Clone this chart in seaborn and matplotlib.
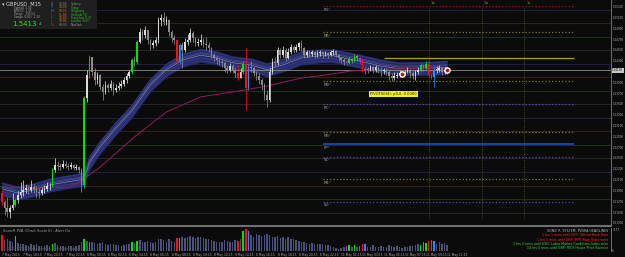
import numpy as np
import pandas as pd
import matplotlib
matplotlib.use('Agg')
import matplotlib.pyplot as plt
import seaborn as sns

# ---- GBPUSD M15 bars ----
first_open = 1.5186
close = [1.5170, 1.5158, 1.5151, 1.5158, 1.5164, 1.5173, 1.5182, 1.5188, 1.5192, 1.5195,
         1.5192, 1.5197, 1.5194, 1.5188, 1.5186, 1.5192, 1.5194, 1.5199, 1.5199, 1.5229,
         1.5238, 1.5237, 1.5234, 1.5240, 1.5237, 1.5234, 1.5238, 1.5232, 1.5234, 1.5229,
         1.5201, 1.5362, 1.5404, 1.5438, 1.5410, 1.5395, 1.5404, 1.5382, 1.5373, 1.5386,
         1.5380, 1.5388, 1.5377, 1.5380, 1.5384, 1.5388, 1.5395, 1.5403, 1.5410, 1.5432,
         1.5429, 1.5466, 1.5484, 1.5478, 1.5488, 1.5469, 1.5460, 1.5464, 1.5469, 1.5506,
         1.5510, 1.5503, 1.5506, 1.5484, 1.5473, 1.5469, 1.5429, 1.5460, 1.5451, 1.5466,
         1.5469, 1.5482, 1.5473, 1.5464, 1.5466, 1.5469, 1.5462, 1.5460, 1.5454, 1.5441,
         1.5436, 1.5432, 1.5429, 1.5427, 1.5417, 1.5414, 1.5421, 1.5414, 1.5408, 1.5399,
         1.5410, 1.5425, 1.5380, 1.5419, 1.5417, 1.5408, 1.5403, 1.5395, 1.5386, 1.5367,
         1.5358, 1.5410, 1.5429, 1.5427, 1.5451, 1.5441, 1.5451, 1.5436, 1.5447, 1.5456,
         1.5451, 1.5456, 1.5464, 1.5454, 1.5441, 1.5447, 1.5443, 1.5447, 1.5441, 1.5445,
         1.5447, 1.5443, 1.5445, 1.5441, 1.5447, 1.5449, 1.5441, 1.5436, 1.5432, 1.5429,
         1.5427, 1.5434, 1.5430, 1.5440, 1.5436, 1.5429, 1.5414, 1.5416, 1.5414, 1.5419,
         1.5414, 1.5419, 1.5414, 1.5412, 1.5412, 1.5410, 1.5403, 1.5399, 1.5403, 1.5404,
         1.5408, 1.5406, 1.5410, 1.5414, 1.5408, 1.5403, 1.5410, 1.5414, 1.5423, 1.5417,
         1.5425, 1.5404, 1.5401, 1.5414, 1.5414, 1.5417, 1.5410, 1.5414, 1.5413]
high = [1.5192, 1.5173, 1.5179, 1.5164, 1.5186, 1.5177, 1.5190, 1.5207, 1.5210, 1.5203,
        1.5201, 1.5210, 1.5203, 1.5199, 1.5195, 1.5197, 1.5201, 1.5207, 1.5205, 1.5232,
        1.5251, 1.5245, 1.5242, 1.5247, 1.5245, 1.5242, 1.5243, 1.5240, 1.5240, 1.5236,
        1.5232, 1.5366, 1.5414, 1.5441, 1.5438, 1.5417, 1.5410, 1.5406, 1.5388, 1.5393,
        1.5390, 1.5395, 1.5392, 1.5388, 1.5392, 1.5395, 1.5401, 1.5408, 1.5414, 1.5436,
        1.5440, 1.5469, 1.5491, 1.5489, 1.5495, 1.5488, 1.5471, 1.5469, 1.5475, 1.5512,
        1.5517, 1.5521, 1.5514, 1.5508, 1.5488, 1.5478, 1.5471, 1.5464, 1.5466, 1.5473,
        1.5480, 1.5491, 1.5486, 1.5475, 1.5473, 1.5480, 1.5473, 1.5475, 1.5466, 1.5456,
        1.5445, 1.5440, 1.5436, 1.5434, 1.5430, 1.5423, 1.5427, 1.5425, 1.5419, 1.5423,
        1.5417, 1.5430, 1.5454, 1.5425, 1.5430, 1.5421, 1.5412, 1.5408, 1.5399, 1.5390,
        1.5377, 1.5417, 1.5436, 1.5438, 1.5456, 1.5454, 1.5458, 1.5454, 1.5454, 1.5462,
        1.5460, 1.5462, 1.5466, 1.5469, 1.5456, 1.5451, 1.5451, 1.5451, 1.5449, 1.5451,
        1.5451, 1.5449, 1.5449, 1.5447, 1.5451, 1.5453, 1.5451, 1.5443, 1.5438, 1.5436,
        1.5432, 1.5438, 1.5436, 1.5443, 1.5441, 1.5438, 1.5434, 1.5421, 1.5419, 1.5423,
        1.5421, 1.5423, 1.5421, 1.5419, 1.5417, 1.5417, 1.5414, 1.5408, 1.5410, 1.5410,
        1.5414, 1.5412, 1.5414, 1.5419, 1.5416, 1.5412, 1.5414, 1.5419, 1.5427, 1.5425,
        1.5430, 1.5432, 1.5406, 1.5419, 1.5421, 1.5423, 1.5419, 1.5419, 1.5417]
low = [1.5164, 1.5145, 1.5142, 1.5140, 1.5155, 1.5160, 1.5168, 1.5177, 1.5180, 1.5186,
       1.5184, 1.5188, 1.5186, 1.5177, 1.5177, 1.5182, 1.5186, 1.5190, 1.5192, 1.5197,
       1.5225, 1.5229, 1.5229, 1.5232, 1.5232, 1.5229, 1.5231, 1.5229, 1.5229, 1.5223,
       1.5188, 1.5195, 1.5355, 1.5399, 1.5403, 1.5386, 1.5388, 1.5377, 1.5358, 1.5369,
       1.5373, 1.5377, 1.5367, 1.5373, 1.5377, 1.5380, 1.5384, 1.5390, 1.5399, 1.5406,
       1.5421, 1.5425, 1.5464, 1.5469, 1.5473, 1.5462, 1.5451, 1.5454, 1.5458, 1.5464,
       1.5495, 1.5497, 1.5497, 1.5477, 1.5466, 1.5462, 1.5425, 1.5425, 1.5417, 1.5447,
       1.5460, 1.5466, 1.5466, 1.5458, 1.5458, 1.5460, 1.5456, 1.5451, 1.5447, 1.5436,
       1.5430, 1.5425, 1.5423, 1.5419, 1.5410, 1.5408, 1.5410, 1.5408, 1.5401, 1.5395,
       1.5399, 1.5406, 1.5340, 1.5377, 1.5410, 1.5403, 1.5395, 1.5388, 1.5377, 1.5358,
       1.5345, 1.5355, 1.5406, 1.5421, 1.5423, 1.5436, 1.5438, 1.5430, 1.5434, 1.5443,
       1.5445, 1.5447, 1.5451, 1.5449, 1.5436, 1.5438, 1.5438, 1.5440, 1.5436, 1.5438,
       1.5440, 1.5436, 1.5440, 1.5436, 1.5440, 1.5441, 1.5438, 1.5430, 1.5427, 1.5423,
       1.5423, 1.5425, 1.5427, 1.5429, 1.5430, 1.5425, 1.5410, 1.5406, 1.5408, 1.5412,
       1.5408, 1.5410, 1.5408, 1.5403, 1.5406, 1.5404, 1.5395, 1.5393, 1.5395, 1.5399,
       1.5401, 1.5401, 1.5404, 1.5408, 1.5399, 1.5397, 1.5395, 1.5406, 1.5410, 1.5412,
       1.5414, 1.5401, 1.5397, 1.5382, 1.5408, 1.5410, 1.5404, 1.5406, 1.5406]
volume = [2200, 1500, 1700, 1400, 1300, 2100, 1100, 900, 1000, 800,
          700, 900, 800, 900, 750, 700, 650, 800, 700, 1000,
          1100, 800, 700, 750, 600, 650, 700, 600, 650, 800,
          1200, 1600, 1400, 1300, 1200, 1100, 1000, 1100, 1200, 900,
          800, 900, 1000, 850, 800, 750, 800, 900, 1000, 1300,
          1100, 1400, 1500, 1300, 1200, 1400, 1300, 1100, 1200, 1700,
          1600, 1500, 1300, 1600, 1400, 1300, 1750, 1800, 1900, 1800,
          2000, 2100, 1900, 1800, 2000, 1900, 1800, 1700, 1600, 1500,
          1400, 1300, 1200, 1300, 1500, 1400, 1200, 1300, 1500, 1400,
          1700, 2800, 3100, 2800, 2200, 2000, 2300, 2200, 2100, 2200,
          2300, 2200, 2000, 1900, 2100, 1800, 2000, 1700, 1900, 1700,
          1600, 1500, 1400, 1300, 1200, 1100, 1000, 1100, 1000, 900,
          1000, 900, 800, 850, 700, 600, 400, 300, 450, 500,
          700, 850, 600, 800, 500, 700, 900, 1000, 600, 550,
          800, 600, 500, 700, 550, 600, 800, 700, 500, 650,
          500, 450, 550, 500, 650, 700, 800, 900, 850, 1200,
          1100, 1400, 1500, 1350, 1000, 1200, 900, 1100, 800]

# PVSRA bar classes (bar index lists)
climax_bull = [5, 19, 31, 49, 51, 91, 131, 133, 158, 160]
climax_bear = [0, 66, 89, 92, 136, 161]
rising_bull = [33, 67, 93, 137, 159, 163]
rising_bear = [130, 135, 162]

# moving-average ribbon and slow MA (bar index, price)
ribbon_idx = [0, 6, 12, 18, 25, 29, 31, 33, 37, 43, 49, 56, 62, 68, 75, 81, 87, 94,
              100, 106, 113, 120, 125, 135, 143, 150, 162, 168]
ribbon_mid = [1.5194, 1.5186, 1.5192, 1.5201, 1.5207, 1.5210, 1.5213, 1.5242, 1.5271, 1.5306,
              1.5338, 1.5386, 1.5414, 1.5432, 1.5441, 1.5436, 1.5427, 1.5423,
              1.5414, 1.5423, 1.5436, 1.5440, 1.5440, 1.5430, 1.5421, 1.5416, 1.5417, 1.5419]
ribbon_half = 0.0013
slow_idx = [0, 12, 25, 29, 37, 50, 62, 75, 87, 100, 113, 120, 132, 150, 168]
slow_ma = [1.5197, 1.5195, 1.5197, 1.5205, 1.5234, 1.5290, 1.5336, 1.5364, 1.5373, 1.5384,
           1.5399, 1.5403, 1.5412, 1.5416, 1.5417]

# pivot levels drawn on the right part of the chart
pivot_names = ['R3', 'M5', 'M4', 'R1', 'M3', 'PP', 'S1', 'M1', 'S2']
pivot_levels = [1.5532, 1.5484, 1.5393, 1.5351, 1.5299, 1.5277, 1.5253, 1.5212, 1.5170]
pivot_kind = ['r', 'm', 'm', 's', 'm', 'p', 's', 'm', 's']
pivot_start, pivot_end = 121, 216
daily_open = 1.5436
daily_open_start = 144
bid = 1.5413
signal_idx = [151, 168]
vline_idx = [161, 181, 197]
vline_labels = ['1w', '3w', '1u']

time_idx = list(range(0, 169, 8))
time_labels = ['7 May 2015', '7 May 18:15', '7 May 20:15', '7 May 22:15', '8 May 00:15',
               '8 May 02:15', '8 May 04:15', '8 May 06:15', '8 May 08:15', '8 May 10:15',
               '8 May 12:15', '8 May 14:15', '8 May 16:15', '8 May 18:15', '8 May 20:15',
               '8 May 22:15', '11 May 01:15', '11 May 03:15', '11 May 05:15', '11 May 07:15',
               '11 May 09:15', '11 May 11:15']
price_ticks = [1.5130 + 0.0020 * k for k in range(21)]
round_levels = [1.5125 + 0.0025 * k for k in range(18)]

sessions = ['Sydney', 'Tokyo', 'Hongkong', 'Helsinki (3)', 'Frankfurt (1,P)', 'London (Ov!)', 'NewYork']
session_times = ['16:00', '18:00', '19:00', '01:00', '10:00', '10:00', '04:00']
headlines = ['SONIC R. SYSTEM: PVSRA HEADLINES',
             '1 hrs 1 mins until GBP: Official Bank Rate',
             '1 hrs 1 mins until GBP: MPC Rate Statement',
             '1 hrs 2 mins until USD: Labor Market Conditions Index m/m',
             '14 hrs 0 mins until GBP: RICS House Price Balance']

# ---- styling ----
BG = '#0b0b0b'
FG = '#b4b4b4'
plt.rcParams['font.family'] = ['DejaVu Sans']
n = len(close)
bars = pd.DataFrame({'i': np.arange(n), 'close': close, 'high': high, 'low': low, 'vol': volume})
bars['open'] = [first_open] + close[:-1]
bars['cls'] = 'normal'
for lst, name in [(climax_bull, 'cbull'), (climax_bear, 'cbear'),
                  (rising_bull, 'rbull'), (rising_bear, 'rbear')]:
    bars.loc[bars['i'].isin(lst), 'cls'] = name

pva_col = {'cbull': '#00e400', 'cbear': '#ff1010', 'rbull': '#1e90ff', 'rbear': '#d020d0'}
vol_col = dict(pva_col, normal='#4c507c')

fig = plt.figure(figsize=(6.25, 2.57), dpi=100, facecolor=BG)
W, H = 625, 257
ax = fig.add_axes([0, (H - 226) / H, 611 / W, 226 / H], facecolor=BG)
axv = fig.add_axes([0, (H - 251) / H, 611 / W, 23 / H], facecolor=BG)
xlim = (-0.75, 229.8)

# faint round-number levels
rcols = ['#24244a', '#2c2c2c', '#1b3a1b', '#3a2a18']
for k, lv in enumerate(round_levels):
    ax.axhline(lv, color=rcols[k % 4], lw=0.6, zorder=0)

# ribbon
rib = pd.DataFrame({'i': ribbon_idx, 'mid': ribbon_mid})
ax.fill_between(rib['i'], rib['mid'] - ribbon_half, rib['mid'] + ribbon_half,
                color='#262b68', lw=0, zorder=1)
for off, c in [(-0.0010, '#353b8a'), (-0.0005, '#3b4196'), (0.0005, '#3b4196'), (0.0010, '#353b8a')]:
    ax.plot(rib['i'], rib['mid'] + off, color=c, lw=0.5, zorder=1)
ax.plot(rib['i'], rib['mid'], color='#8a8ca8', lw=0.45, zorder=2)
ax.plot(rib['i'], rib['mid'] + 0.0003, color='#5a5d86', lw=0.4, zorder=2)

sns.lineplot(x=slow_idx, y=slow_ma, ax=ax, color='#8e1c5c', lw=0.7, zorder=2)

# bid line
ax.axhline(bid, color='#8c8c8c', lw=0.6, zorder=1)

# pivots
pstyle = {'r': ('#a01414', ':', 0.9), 'm': ('#7a7a1c', ':', 0.9), 's': ('#4c48b8', ':', 0.9),
          'p': ('#1c4aa8', '-', 1.3)}
for name, lv, kd in zip(pivot_names, pivot_levels, pivot_kind):
    c, ls, lw = pstyle[kd]
    ax.hlines(lv, pivot_start, pivot_end, colors=c, linestyles=ls, lw=lw, zorder=1)
    ax.text(pivot_start + 0.5, lv - 0.0003, name + '°', color='#9a9a9a', fontsize=2.8,
            va='top', ha='left')
ax.hlines(daily_open, daily_open_start, pivot_end, colors='#b0a010', lw=0.9, zorder=1)
for vi, vl in zip(vline_idx, vline_labels):
    ax.vlines(vi, 1.5140, 1.5530, colors='#5a5a26', linestyles=':', lw=0.6, zorder=0)
    ax.text(vi + 0.8, 1.5538, vl, color='#8a8a30', fontsize=2.6, va='center')

# candles
for r in bars.itertuples():
    up = r.close >= r.open
    if r.cls == 'normal':
        c = '#dcdcdc' if up else '#8c8c8c'
    else:
        c = pva_col[r.cls]
    ax.vlines(r.i, r.low, r.high, colors=c, lw=0.55, zorder=3)
    lo, hi = min(r.open, r.close), max(r.open, r.close)
    ax.bar(r.i, max(hi - lo, 0.00008), bottom=lo, width=0.6, color=c, lw=0, zorder=4)

sig = bars.loc[bars['i'].isin(signal_idx)]
ax.scatter(sig['i'], sig['close'], s=14, facecolor='#d01010', edgecolor='white', lw=1.0, zorder=5)

ax.text(139, 1.5369, 'PIVOTS(H4): p0.0, 0.0000', fontsize=2.6, color='#202000',
        va='center', ha='left', bbox=dict(boxstyle='square,pad=0.25', fc='#f0f020', ec='none'))

ax.set_xlim(*xlim)
ax.set_ylim(1.51251, 1.55432)
ax.set_xticks([])
ax.set_yticks([])
for s in ax.spines.values():
    s.set_visible(False)
ax.spines['right'].set_visible(True)
ax.spines['right'].set_color('#808080')
ax.spines['right'].set_linewidth(0.6)
ax.spines['bottom'].set_visible(True)
ax.spines['bottom'].set_color('#707070')
ax.spines['bottom'].set_linewidth(1.5)

# price labels on the right
for t in price_ticks:
    if abs(t - bid) < 0.0008:
        continue
    ax.text(xlim[1] + 0.5, t, f'{t:.5f}', fontsize=1.95, color=FG, va='center', ha='left',
            clip_on=False)
ax.text(xlim[1] + 0.45, bid, f'{bid:.5f}', fontsize=1.95, color='#101010', va='center', ha='left',
        clip_on=False, bbox=dict(boxstyle='square,pad=0.12', fc='#c8c8c8', ec='none'))

# volume panel
sns.barplot(x=bars['i'], y=bars['vol'], hue=bars['cls'], palette=vol_col, ax=axv,
            native_scale=True, width=0.55, dodge=False, legend=False, linewidth=0, saturation=1)
axv.set_xlim(*xlim)
axv.set_ylim(0, 3180)
axv.set_xticks([])
axv.set_yticks([])
axv.set_xlabel('')
axv.set_ylabel('')
for s in axv.spines.values():
    s.set_visible(False)
axv.spines['right'].set_visible(True)
axv.spines['right'].set_color('#808080')
axv.spines['right'].set_linewidth(0.6)
axv.text(0.005, 0.97, 'SonicR PVA (Chart Scale 0) - Alert On', transform=axv.transAxes,
         fontsize=2.6, color='#9a9a9a', va='top')
axv.text(0.005, 0.02, '© 2001-2014 MetaQuotes Software Corp.', transform=axv.transAxes,
         fontsize=2.6, color='#5a5a5a', va='bottom')
axv.text(xlim[1] + 0.5, 3180, '3177', fontsize=1.95, color=FG, va='top', clip_on=False)
axv.text(xlim[1] + 0.5, 0, '0', fontsize=1.95, color=FG, va='center', clip_on=False)
hcols = ['#b4b4b4', '#ff2020', '#ff2020', '#30e030', '#30e030']
for k, (txt, c) in enumerate(zip(headlines, hcols)):
    axv.text(0.995, 0.96 - k * 0.19, txt, transform=axv.transAxes, fontsize=2.3, color=c,
             va='top', ha='right')

# time axis
for ti, tl in zip(time_idx, time_labels):
    axv.text(ti, -250, tl, fontsize=2.2, color='#a8a8a8', va='top', ha='left', clip_on=False)

# info box top-left
fig.patches.append(plt.Rectangle((0, 1 - 29 / H), 97 / W, 29 / H, transform=fig.transFigure,
                                 fc='#1f1f1f', ec='none', zorder=5))
fig.text(2 / W, 1 - 4.5 / H, '▾ GBPUSD  M15', fontsize=3.6, color='#e0e0e0', va='center', zorder=6)
info = ['Spread  2.00', 'ATR(D)  1.35', 'Range   135.53', 'Swaps  0.60 / -1.50']
for k, s in enumerate(info):
    fig.text(14 / W, 1 - (8.5 + 2.9 * k) / H, s, fontsize=2.0, color='#a0a0a0', va='center', zorder=6)
fig.text(12 / W, 1 - 23.5 / H, '1.5413', fontsize=5, color='#30e030', va='center', zorder=6)
fig.text(39 / W, 1 - 24 / H, '4', fontsize=3.2, color='#30e030', va='center', zorder=6)
scol = ['#3aa0e0', '#3aa0e0', '#3aa0e0', '#d02020', '#d02020', '#d02020', '#d02020']
tcol = ['#8a8a8a', '#d08020', '#d08020', '#d08020', '#d08020', '#d08020', '#8a8a8a']
ncol = ['#909090', '#30c030', '#30c030', '#30c030', '#30c030', '#30c030', '#909090']
for k, (nm, tm) in enumerate(zip(sessions, session_times)):
    y = 1 - (4 + 3.5 * k) / H
    fig.text(51 / W, y, 'STHLFLN'[k], fontsize=2.4, color=scol[k], va='center', zorder=6)
    fig.text(59 / W, y, tm, fontsize=2.1, color=tcol[k], va='center', zorder=6)
    fig.text(71 / W, y, nm, fontsize=2.1, color=ncol[k], va='center', zorder=6)

fig.savefig('out.png', dpi=100, facecolor=BG)
